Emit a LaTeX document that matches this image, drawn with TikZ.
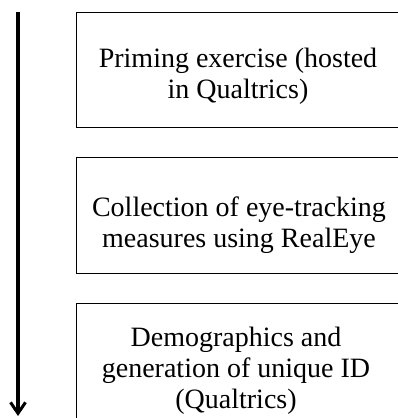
\documentclass[tikz,border=0pt]{standalone}
\usepackage{fontspec}
\setmainfont{Liberation Serif}
\usetikzlibrary{arrows.meta}
\begin{document}
\begin{tikzpicture}[x=1pt,y=1pt,
  stagebox/.style={draw=black, line width=1.2pt, minimum width=324pt, anchor=north west, inner sep=0pt},
  stagetext/.style={font=\fontsize{28}{31}\selectfont, align=center, inner sep=0pt, anchor=center},
  flow/.style={line width=3.2pt, -{Straight Barb[length=11pt,width=15pt,line width=3pt]}}]
\useasboundingbox (0,0) rectangle (398,-418);
\coordinate (top) at (18,-12);
\coordinate (bot) at (18,-416);
\draw[flow] (top) -- (bot);
\node[stagebox, minimum height=115pt] (box1) at (76,-12) {};
\node[stagebox, minimum height=116pt] (box2) at (76,-157) {};
\node[stagebox, minimum height=130pt] (box3) at (76,-303) {};
\node[stagetext] (t1) at (238,-76) {Priming exercise (hosted\\in Qualtrics)};
\node[stagetext] (t2) at (239,-225) {Collection of eye-tracking\\measures using RealEye};
\node[stagetext] (t3) at (236,-371) {Demographics and\\generation of unique ID\\(Qualtrics)};
\end{tikzpicture}
\end{document}
